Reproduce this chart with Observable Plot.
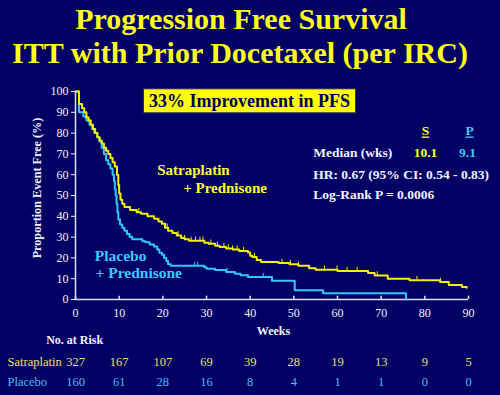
<!DOCTYPE html>
<html><head><meta charset="utf-8">
<script src="https://cdn.jsdelivr.net/npm/d3@7"></script>
<script src="https://cdn.jsdelivr.net/npm/@observablehq/plot@0.6"></script>
<style>
html,body{margin:0;padding:0;background:#000064;}
#chart{width:500px;height:395px;overflow:hidden;}
</style></head><body><div id="chart"></div>
<script>
// ---- data ----
const satTimes = [0,0.8,1.5,2.0,2.5,3.0,3.5,4.0,4.5,5.0,5.5,6.0,6.5,7.0,7.5,8.0,8.5,9.0,9.5,9.8,10.0,10.3,10.7,11.2,12.5,14.0,15.0,16.5,18.0,19.0,19.8,20.5,21.2,22.2,23.2,24.2,25.0,26.0,29.5,30.5,32.0,33.0,34.5,36.0,37.5,39.5,40.0,40.5,41.5,42.5,46.5,49.0,51.0,53.5,55.0,60.0,67.0,68.5,71.5,76.5,83.5,85.5,88.5,89.6];
const satSurv  = [100,94,92,90,87.5,86,84,82,80,78,76.5,75,73,71.5,70,68,66,64,60,55,51,48,46,44.5,43,42,41.2,40,38.8,37.5,36.4,34.5,33,32,30.8,29.6,29,28.2,27.3,26.8,25.8,25.2,24.5,24,23.3,22.6,21,20.4,19,18,17.5,17,16.2,15,14.3,13.7,12.7,11.5,10,9.3,8.4,7,6,5.7];
const plaTimes = [0,0.8,1.8,2.5,3.2,3.8,4.3,5.0,5.5,6.0,6.5,7.0,7.5,8.0,8.5,8.8,9.0,9.2,9.4,9.6,9.8,10.2,10.7,11.2,11.8,12.4,13.0,15.3,16.0,17.0,18.0,18.7,19.2,19.8,20.3,20.8,21.2,21.8,29.5,30.0,32.0,34.5,36.5,37.8,39.5,45.0,50.2,56.7,75.7];
const plaSurv  = [100,90,88,86,84,82,80,78,76,73,70,67,65,63,60,57,53,50,46,42,38.5,36,34.5,33,31.5,30,29,28,27.5,26.5,25.5,24,22.5,21.5,20,18.5,17,16.2,15.5,14.8,14.2,13.2,12.4,11.6,10.8,9,4.5,3,0];
const satCensored = [14.5,21,23.5,25,26.5,27.5,28.5,29.2,31,32.5,34,35,36,37,38.5,41,47.3,49.2,51.1,57,59.9,62.2,64.5,69.1,78.2,83.6];
const plaCensored = [27.3,28.0,34.7,43];
const weekTicks = [0,10,20,30,40,50,60,70,80,90];
const pctTicks = [0,10,20,30,40,50,60,70,80,90,100];
const riskSat = [327,167,107,69,39,28,19,13,9,5];
const riskPla = [160,61,28,16,8,4,1,1,0,0];
const titleLines = ["Progression Free Survival","ITT with Prior Docetaxel (per IRC)"];

// ---- build ----
const YEL = "#f4f000", CY = "#33c6ff", WH = "#f2f2ff", BG = "#000064";
const sat = satTimes.map((t,i)=>({t, s: satSurv[i]}));
const pla = plaTimes.map((t,i)=>({t, s: plaSurv[i]}));
function survAt(times, surv, t){ let k=0; for(let i=0;i<times.length;i++){ if(times[i]<=t) k=i; } return surv[k]; }
const satC = satCensored.map(t=>({t, s: survAt(satTimes,satSurv,t)}));
const plaC = plaCensored.map(t=>({t, s: survAt(plaTimes,plaSurv,t)}));
const B = "bold";
const txt = (s, o) => Plot.text([s], {text: d=>d, fontFamily:"Liberation Serif", ...o});

const chart = Plot.plot({
  width: 500, height: 395,
  marginLeft: 75, marginRight: 32, marginTop: 91, marginBottom: 96,
  style: {background: BG, color: WH, fontFamily: "Liberation Serif", fontSize: "12px", overflow:"visible"},
  x: {domain: [0,90], label: null},
  y: {domain: [0,100], label: null},
  marks: [
    Plot.axisX({ticks: weekTicks, tickSize: 0, tickPadding: 9, fontSize: 12, color: WH, label: null}),
    Plot.axisY({ticks: pctTicks, tickSize: 4, tickPadding: 3, fontSize: 12, color: WH, label: null, stroke: WH}),
    Plot.ruleY([0], {stroke: "#e0e0ff", strokeWidth: 1.5}),
    Plot.ruleX([0], {stroke: "#e0e0ff", strokeWidth: 1.5}),
    Plot.ruleX(weekTicks, {y1: 0, y2: 1.6, stroke: "#e0e0ff", strokeWidth: 1.5}),
    Plot.line(pla, {x:"t", y:"s", curve:"step-after", stroke: CY, strokeWidth: 2}),
    Plot.line(sat, {x:"t", y:"s", curve:"step-after", stroke: YEL, strokeWidth: 2}),
    Plot.ruleX(plaC, {x:"t", y1:"s", y2: d=>d.s+1.8, stroke: CY, strokeWidth: 1}),
    Plot.ruleX(satC, {x:"t", y1:"s", y2: d=>d.s+1.8, stroke: YEL, strokeWidth: 1}),
    // titles
    txt(titleLines[0], {frameAnchor:"top", dx:-31, dy:-63, lineAnchor:"bottom", fontSize:30, fontWeight:B, fill:"#ffff1a"}),
    txt(titleLines[1], {frameAnchor:"top", dx:-32, dy:-28.5, lineAnchor:"bottom", fontSize:30, fontWeight:B, fill:"#ffff1a"}),
    // box
    txt("33% Improvement in PFS", {x: 39.85, y: 92.4, lineAnchor:"bottom", fontSize:18, fontWeight:B, fill:"#000050"}),
    // series labels
    txt("Satraplatin", {x:18.7, y:60, textAnchor:"start", lineAnchor:"bottom", fontSize:15, fontWeight:B, fill:"#ffff33"}),
    txt("+ Prednisone", {x:24.66, y:51.3, textAnchor:"start", lineAnchor:"bottom", fontSize:15, fontWeight:B, fill:"#ffff33"}),
    txt("Placebo", {x:4.42, y:18.75, textAnchor:"start", lineAnchor:"bottom", fontSize:15.5, fontWeight:B, fill:"#3fc8ff"}),
    txt("+ Prednisone", {x:4.58, y:10.1, textAnchor:"start", lineAnchor:"bottom", fontSize:15.5, fontWeight:B, fill:"#3fc8ff"}),
    // stats
    txt("S", {x:80.15, y:78.85, lineAnchor:"bottom", fontSize:13.5, fontWeight:B, fill:"#ffff33"}),
    txt("P", {x:90.23, y:78.85, lineAnchor:"bottom", fontSize:13.5, fontWeight:B, fill:"#3fc8ff"}),
    txt("Median (wks)", {x:54.43, y:68.27, textAnchor:"start", lineAnchor:"bottom", fontSize:13.5, fontWeight:B, fill:WH}),
    txt("10.1", {x:80.15, y:68.27, lineAnchor:"bottom", fontSize:13.5, fontWeight:B, fill:"#ffff33"}),
    txt("9.1", {x:89.77, y:68.27, lineAnchor:"bottom", fontSize:13.5, fontWeight:B, fill:"#3fc8ff"}),
    txt("HR: 0.67 (95% CI: 0.54 - 0.83)", {x:54.43, y:57.7, textAnchor:"start", lineAnchor:"bottom", fontSize:13.5, fontWeight:B, fill:WH}),
    txt("Log-Rank P = 0.0006", {x:54.43, y:48.08, textAnchor:"start", lineAnchor:"bottom", fontSize:13.5, fontWeight:B, fill:WH}),
    // axis titles
    txt("Proportion Event Free (%)", {x:-8.9, y:53.6, rotate:-90, fontSize:12.2, fontWeight:B, fill:WH}),
    txt("Weeks", {frameAnchor:"bottom", dx:1.5, dy:35, lineAnchor:"bottom", fontSize:12, fontWeight:B, fill:WH}),
    txt("No. at Risk", {frameAnchor:"bottom-left", dx:-29.3, dy:44, textAnchor:"start", lineAnchor:"bottom", fontSize:12, fontWeight:B, fill:WH}),
    // risk table
    txt("Satraplatin", {frameAnchor:"bottom-left", dx:-68, dy:66, textAnchor:"start", lineAnchor:"bottom", fontSize:12.5, fill:"#e8e070"}),
    txt("Placebo", {frameAnchor:"bottom-left", dx:-68, dy:86, textAnchor:"start", lineAnchor:"bottom", fontSize:12.5, fill:"#4cbcf5"}),
    Plot.text(riskSat, {x:(d,i)=>weekTicks[i], text:d=>String(d), frameAnchor:"bottom", dy:66, lineAnchor:"bottom", fontSize:12.5, fontFamily:"Liberation Serif", fill:"#e8e070"}),
    Plot.text(riskPla, {x:(d,i)=>weekTicks[i], text:d=>String(d), frameAnchor:"bottom", dy:86, lineAnchor:"bottom", fontSize:12.5, fontFamily:"Liberation Serif", fill:"#4cbcf5"})
  ]
});
document.getElementById("chart").appendChild(chart);

// yellow highlight box behind the headline, sized from the rendered text
const svg = d3.select(chart);
svg.selectAll("text").each(function(){
  const t = this.textContent;
  if (t === "33% Improvement in PFS") {
    const g = this.parentNode;
    const bb = g.getBBox();
    d3.select(g).insert("rect", "text")
      .attr("x", bb.x - 5.5).attr("y", bb.y - 2.5)
      .attr("width", bb.width + 11).attr("height", bb.height + 4)
      .attr("fill", "#ffff00").attr("stroke", "#2a2a60").attr("stroke-width", 1);
  }
  if (t === "S" || t === "P") d3.select(this).style("text-decoration", "underline");
});
</script>
</body></html>
